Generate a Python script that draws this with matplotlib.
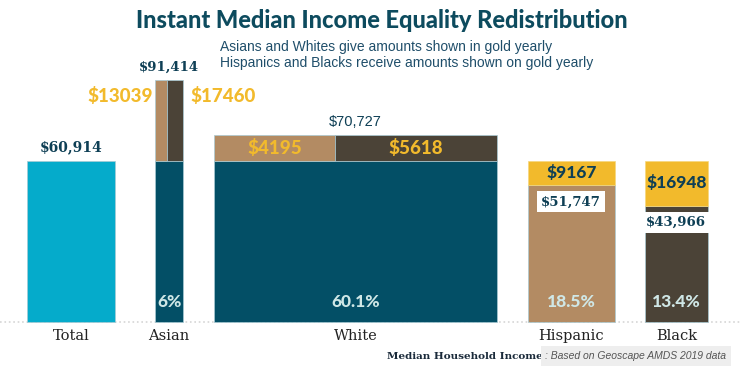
import matplotlib.pyplot as plt

categories = ['Total', 'Asian', 'White', 'Hispanic', 'Black']
median_income = [60914, 91414, 70727, 51747, 43966]
pop_share = [6, 60.1, 18.5, 13.4]          # Asian, White, Hispanic, Black
pct_labels = ['6%', '60.1%', '18.5%', '13.4%']
to_hispanic = [13039, 4195]                # given by Asian, White
to_black = [17460, 5618]
received = [9167, 16948]                   # Hispanic, Black

TEAL = '#034f66'
CYAN = '#05abcb'
TAN = '#b38b63'
BROWN = '#4b4337'
GOLD = '#f2ba2c'
DARK = '#0e3f55'
PALE = '#cfe7e6'
EDGE = '#a9cbd4'

# px per 1000$ = 2.643, px per % = 4.7 -> axes fill the figure
fig = plt.figure(figsize=(7.4, 3.71), dpi=100)
ax = fig.add_axes([0, 0, 1, 1])
ax.set_xlim(0, 740 / 4.7)
ax.set_ylim(-49 / 2.643 * 1000, 322 / 2.643 * 1000)
ax.axis('off')

widths = [18.8] + pop_share
gaps = [8.5, 6.6, 6.6, 6.4]
lefts = [5.7]
for w, g in zip(widths[:-1], gaps):
    lefts.append(lefts[-1] + w + g)
centers = [l + w / 2 for l, w in zip(lefts, widths)]
equal = median_income[0]

ax.axhline(0, color='#d6d6d6', ls=':', lw=1.2, zorder=0)

# Total
ax.bar(lefts[0], equal, width=widths[0], align='edge', color=CYAN, edgecolor=EDGE, lw=0.5)

# Asian and White: teal base + giving split
for i in (1, 2):
    k = i - 1
    give = to_hispanic[k] + to_black[k]
    frac = to_hispanic[k] / give
    w_h = widths[i] * frac
    ax.bar(lefts[i], equal, width=widths[i], align='edge', color=TEAL, edgecolor=EDGE, lw=0.5)
    ax.bar(lefts[i], median_income[i] - equal, bottom=equal, width=w_h, align='edge',
           color=TAN, edgecolor=EDGE, lw=0.5)
    ax.bar(lefts[i] + w_h, median_income[i] - equal, bottom=equal, width=widths[i] - w_h,
           align='edge', color=BROWN, edgecolor=EDGE, lw=0.5)

# Hispanic and Black: own income + gold received
for i, col in ((3, TAN), (4, BROWN)):
    ax.bar(lefts[i], median_income[i], width=widths[i], align='edge', color=col, edgecolor=EDGE, lw=0.5)
    ax.bar(lefts[i], received[i - 3], bottom=median_income[i], width=widths[i], align='edge',
           color=GOLD, edgecolor='#f6d77e', lw=0.5)

heavy = dict(family='Lato', fontweight='black')
slab = dict(family='DejaVu Serif', fontweight='bold', color=DARK)

# top value labels
ax.text(centers[0], equal + 5300, '$60,914', ha='center', va='center', fontsize=10, **slab)
ax.text(centers[1], median_income[1] + 4900, '$91,414', ha='center', va='center', fontsize=9.5, **slab)
ax.text(centers[2], median_income[2] + 4900, '$70,727', ha='center', va='center', fontsize=10.5,
        family='Liberation Sans', color=DARK)

# Asian giving
ax.text(lefts[1] - 0.5, median_income[1] - 6000, f'${to_hispanic[0]}', ha='right', va='center',
        fontsize=13.5, color=GOLD, **heavy)
ax.text(lefts[1] + widths[1] + 1.5, median_income[1] - 6000, f'${to_black[0]}', ha='left', va='center',
        fontsize=13.5, color=GOLD, **heavy)

# White giving
wf = to_hispanic[1] / (to_hispanic[1] + to_black[1])
ymid = (equal + median_income[2]) / 2
ax.text(lefts[2] + widths[2] * wf / 2, ymid, f'${to_hispanic[1]}', ha='center', va='center',
        fontsize=13.5, color=GOLD, **heavy)
ax.text(lefts[2] + widths[2] * (1 + wf) / 2, ymid, f'${to_black[1]}', ha='center', va='center',
        fontsize=13.5, color=GOLD, **heavy)

# receiving labels
for i in (3, 4):
    r = received[i - 3]
    ax.text(centers[i], median_income[i] + r / 2, f'${r}', ha='center', va='center',
            fontsize=12.5, color=DARK, **heavy)
    ax.text(centers[i], median_income[i] - 6300, f'${median_income[i]:,}', ha='center', va='center',
            fontsize=9.5, bbox=dict(boxstyle='square,pad=0.3', fc='white', ec='none'), **slab)

# population shares
for c, p in zip(centers[1:], pct_labels):
    ax.text(c, 7600, p, ha='center', va='center', fontsize=12.5, color=PALE, **heavy)

# category labels
for c, name in zip(centers, categories):
    ax.text(c, -5300, name, ha='center', va='center', fontsize=10.5, family='DejaVu Serif',
            color='#222222')

fig.text(0.516, 0.946, 'Instant Median Income Equality Redistribution', ha='center', va='center',
         fontsize=17, color='#0d4b5e', **heavy)
fig.text(0.297, 0.873, 'Asians and Whites give amounts shown in gold yearly', ha='left', va='center',
         fontsize=10, family='Liberation Sans', color='#1f4e6a')
fig.text(0.297, 0.830, 'Hispanics and Blacks receive amounts shown on gold yearly', ha='left',
         va='center', fontsize=10, family='Liberation Sans', color='#1f4e6a')

fig.text(0.734, 0.040, 'Median Household Income', ha='right', va='center', fontsize=7.5,
         fontweight='bold', family='DejaVu Serif', color='#1a2a3a')
fig.text(0.737, 0.040, ': Based on Geoscape AMDS 2019 data', ha='left', va='center', fontsize=7.5,
         style='italic', family='Liberation Sans', color='#555555',
         bbox=dict(boxstyle='square,pad=0.45', fc='#eeeeee', ec='none'))

fig.savefig('out.png', dpi=100)
